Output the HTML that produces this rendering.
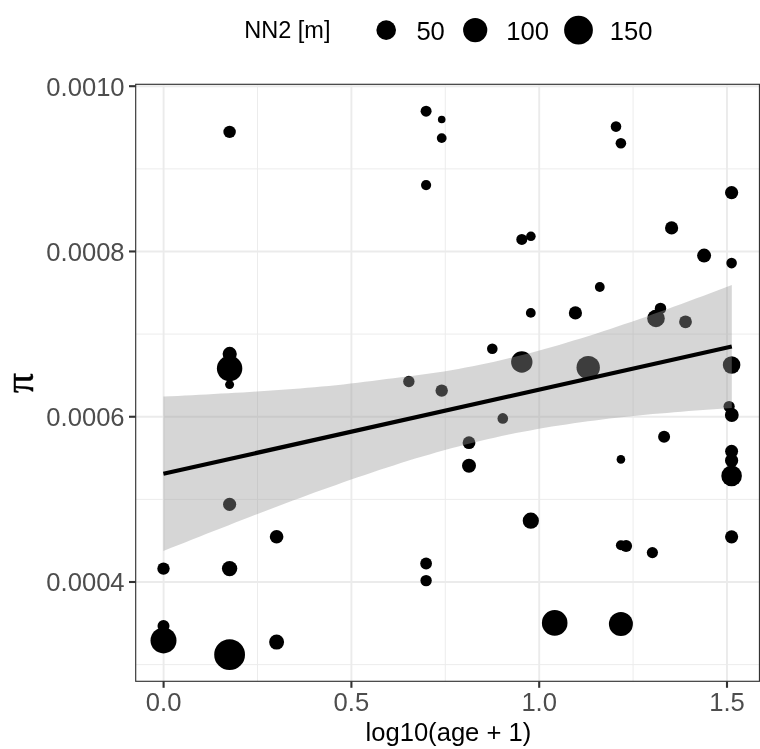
<!DOCTYPE html><html><head><meta charset="utf-8"><title>plot</title><style>html,body{margin:0;padding:0;background:#fff}svg{display:block}text{font-family:"Liberation Sans",sans-serif}</style></head><body>
<svg width="760" height="749" viewBox="0 0 760 749">
<rect width="760" height="749" fill="#fff"/>
<g stroke="#ebebeb" stroke-width="0.95" fill="none">
<path d="M257.5,84.3V681.3"/>
<path d="M445.3,84.3V681.3"/>
<path d="M633.1,84.3V681.3"/>
<path d="M135.7,168.85H759.45"/>
<path d="M135.7,334.1H759.45"/>
<path d="M135.7,499.4H759.45"/>
<path d="M135.7,664.6H759.45"/>
</g><g stroke="#ebebeb" stroke-width="1.9" fill="none">
<path d="M163.6,84.3V681.3"/>
<path d="M351.4,84.3V681.3"/>
<path d="M539.2,84.3V681.3"/>
<path d="M727.0,84.3V681.3"/>
<path d="M135.7,86.2H759.45"/>
<path d="M135.7,251.45H759.45"/>
<path d="M135.7,416.75H759.45"/>
<path d="M135.7,582.0H759.45"/>
</g><g fill="#000">
<circle cx="229.6" cy="131.9" r="6.2"/>
<circle cx="426.1" cy="111.2" r="5.5"/>
<circle cx="441.7" cy="119.5" r="3.8"/>
<circle cx="441.7" cy="138.1" r="4.9"/>
<circle cx="426.1" cy="185.1" r="5.1"/>
<circle cx="616.0" cy="126.6" r="5.3"/>
<circle cx="620.9" cy="143.2" r="5.3"/>
<circle cx="731.6" cy="192.6" r="6.6"/>
<circle cx="671.6" cy="227.9" r="6.6"/>
<circle cx="229.7" cy="353.9" r="7.1"/>
<circle cx="229.6" cy="368.5" r="12.7"/>
<circle cx="229.6" cy="384.6" r="4.5"/>
<circle cx="408.85" cy="381.5" r="5.7"/>
<circle cx="441.7" cy="390.6" r="6.2"/>
<circle cx="521.8" cy="239.4" r="5.5"/>
<circle cx="530.9" cy="236.3" r="4.8"/>
<circle cx="599.8" cy="287.0" r="4.9"/>
<circle cx="530.8" cy="312.9" r="4.9"/>
<circle cx="575.4" cy="312.9" r="6.6"/>
<circle cx="492.3" cy="348.8" r="5.3"/>
<circle cx="521.8" cy="362.0" r="10.7"/>
<circle cx="588.2" cy="367.6" r="11.7"/>
<circle cx="704.1" cy="255.6" r="7.0"/>
<circle cx="731.6" cy="263.1" r="5.3"/>
<circle cx="660.5" cy="308.4" r="5.7"/>
<circle cx="656.0" cy="318.4" r="8.8"/>
<circle cx="685.5" cy="321.8" r="6.4"/>
<circle cx="731.6" cy="365.0" r="8.8"/>
<circle cx="229.6" cy="504.3" r="6.6"/>
<circle cx="276.6" cy="536.8" r="6.8"/>
<circle cx="502.8" cy="418.4" r="5.3"/>
<circle cx="469.0" cy="442.7" r="6.4"/>
<circle cx="469.0" cy="465.8" r="7.0"/>
<circle cx="530.8" cy="520.7" r="8.1"/>
<circle cx="729.1" cy="406.5" r="5.6"/>
<circle cx="731.8" cy="415.0" r="6.9"/>
<circle cx="664.1" cy="436.8" r="6.0"/>
<circle cx="620.9" cy="459.4" r="4.3"/>
<circle cx="731.6" cy="451.3" r="6.5"/>
<circle cx="731.6" cy="460.5" r="6.6"/>
<circle cx="731.6" cy="475.9" r="10.3"/>
<circle cx="731.6" cy="536.8" r="6.6"/>
<circle cx="620.9" cy="545.3" r="5.0"/>
<circle cx="626.1" cy="545.9" r="6.0"/>
<circle cx="652.4" cy="552.6" r="5.6"/>
<circle cx="163.5" cy="568.6" r="6.2"/>
<circle cx="229.6" cy="568.6" r="7.7"/>
<circle cx="163.5" cy="626.1" r="6.0"/>
<circle cx="163.5" cy="640.4" r="13.0"/>
<circle cx="229.6" cy="654.7" r="15.4"/>
<circle cx="276.6" cy="642.1" r="7.5"/>
<circle cx="426.1" cy="563.5" r="5.9"/>
<circle cx="426.1" cy="580.6" r="5.7"/>
<circle cx="554.7" cy="622.9" r="12.8"/>
<circle cx="620.9" cy="624.0" r="12.0"/>
</g>
<path d="M163.4,396.6 L170.6,396.2 L177.8,395.9 L185.0,395.5 L192.2,395.2 L199.4,394.8 L206.6,394.4 L213.8,394.0 L221.0,393.6 L228.2,393.2 L235.3,392.8 L242.5,392.4 L249.7,391.9 L256.9,391.5 L264.1,391.0 L271.3,390.5 L278.5,390.0 L285.7,389.5 L292.9,389.0 L300.1,388.4 L307.3,387.8 L314.5,387.2 L321.7,386.6 L328.9,385.9 L336.1,385.2 L343.3,384.4 L350.5,383.6 L357.7,382.7 L364.9,381.8 L372.1,380.9 L379.2,380.0 L386.4,379.1 L393.6,378.2 L400.8,377.3 L408.0,376.4 L415.2,375.5 L422.4,374.6 L429.6,373.6 L436.8,372.5 L444.0,371.4 L451.2,370.2 L458.4,369.0 L465.6,367.6 L472.8,366.2 L480.0,364.8 L487.2,363.2 L494.4,361.7 L501.6,360.0 L508.8,358.3 L516.0,356.6 L523.1,354.7 L530.3,352.9 L537.5,351.0 L544.7,349.0 L551.9,347.0 L559.1,344.9 L566.3,342.8 L573.5,340.6 L580.7,338.4 L587.9,336.2 L595.1,333.9 L602.3,331.5 L609.5,329.2 L616.7,326.8 L623.9,324.3 L631.1,321.9 L638.3,319.4 L645.5,316.9 L652.7,314.3 L659.9,311.8 L667.0,309.2 L674.2,306.5 L681.4,303.9 L688.6,301.2 L695.8,298.6 L703.0,295.9 L710.2,293.2 L717.4,290.4 L724.6,287.7 L731.8,284.9 L731.8,408.1 L724.6,408.5 L717.4,409.0 L710.2,409.5 L703.0,410.0 L695.8,410.6 L688.6,411.1 L681.4,411.7 L674.2,412.3 L667.0,412.9 L659.9,413.5 L652.7,414.1 L645.5,414.8 L638.3,415.5 L631.1,416.2 L623.9,417.0 L616.7,417.8 L609.5,418.6 L602.3,419.5 L595.1,420.4 L587.9,421.3 L580.7,422.3 L573.5,423.3 L566.3,424.4 L559.1,425.5 L551.9,426.6 L544.7,427.8 L537.5,429.1 L530.3,430.4 L523.1,431.7 L516.0,433.1 L508.8,434.6 L501.6,436.1 L494.4,437.7 L487.2,439.3 L480.0,441.0 L472.8,442.8 L465.6,444.6 L458.4,446.4 L451.2,448.3 L444.0,450.3 L436.8,452.3 L429.6,454.4 L422.4,456.5 L415.2,458.6 L408.0,460.8 L400.8,463.1 L393.6,465.4 L386.4,467.7 L379.2,470.1 L372.1,472.4 L364.9,474.9 L357.7,477.3 L350.5,479.8 L343.3,482.3 L336.1,484.9 L328.9,487.4 L321.7,490.0 L314.5,492.6 L307.3,495.3 L300.1,497.9 L292.9,500.6 L285.7,503.3 L278.5,506.0 L271.3,508.7 L264.1,511.5 L256.9,514.2 L249.7,517.0 L242.5,519.8 L235.3,522.6 L228.2,525.4 L221.0,528.2 L213.8,531.0 L206.6,533.8 L199.4,536.7 L192.2,539.5 L185.0,542.4 L177.8,545.3 L170.6,548.1 L163.4,551.0Z" fill="#999" fill-opacity="0.4"/>
<path d="M163.4,473.81L731.8,346.50" stroke="#000" stroke-width="4.2" fill="none"/>
<rect x="135.7" y="84.3" width="623.75" height="597.0" fill="none" stroke="#333" stroke-width="1.15"/>
<g stroke="#333" stroke-width="2.1">
<path d="M163.6,681.3v6.5"/>
<path d="M351.4,681.3v6.5"/>
<path d="M539.2,681.3v6.5"/>
<path d="M727.0,681.3v6.5"/>
<path d="M135.7,86.2h-6.7"/>
<path d="M135.7,251.45h-6.7"/>
<path d="M135.7,416.75h-6.7"/>
<path d="M135.7,582.0h-6.7"/>
</g>
<g fill="#4d4d4d" font-size="25.6" text-anchor="end">
<text x="124.6" y="95.5">0.0010</text>
<text x="124.6" y="260.8">0.0008</text>
<text x="124.6" y="426.1">0.0006</text>
<text x="124.6" y="591.3">0.0004</text>
</g><g fill="#4d4d4d" font-size="25.6" text-anchor="middle">
<text x="163.6" y="711">0.0</text>
<text x="351.4" y="711">0.5</text>
<text x="539.2" y="711">1.0</text>
<text x="727.0" y="711">1.5</text>
</g>
<text x="448.4" y="740.6" font-size="25.6" text-anchor="middle" fill="#000">log10(age + 1)</text>
<text transform="translate(33,383) rotate(-90)" font-size="39.5" text-anchor="middle" fill="#000" stroke="#000" stroke-width="0.5" style="font-family:'Liberation Serif',serif">π</text>
<text x="244.3" y="38" font-size="23.5" fill="#000">NN2 [m]</text>
<g fill="#000"><circle cx="386.2" cy="30.1" r="9.8"/><circle cx="475.2" cy="30.1" r="12.1"/><circle cx="578.5" cy="30.1" r="14.4"/></g>
<g fill="#000" font-size="25.6"><text x="416.4" y="39.9">50</text><text x="506.3" y="39.9">100</text><text x="609.7" y="39.9">150</text></g>
</svg></body></html>
